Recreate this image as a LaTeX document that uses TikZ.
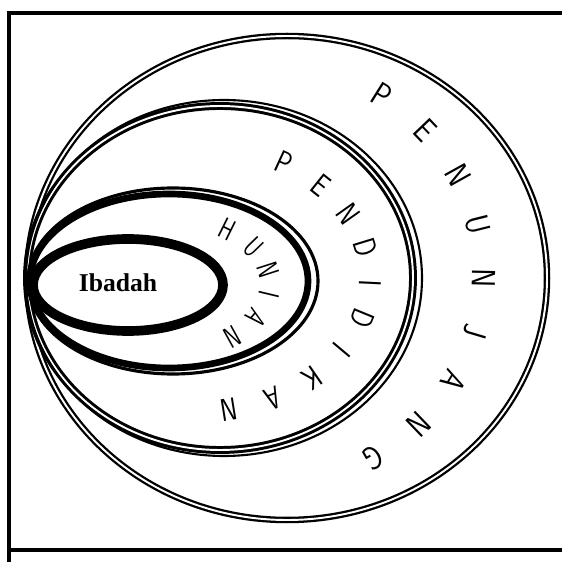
\documentclass[tikz,border=0pt]{standalone}
\usepackage{fontspec}
\setmainfont{Liberation Serif}
\usepackage{tikz}

\begin{document}
\begin{tikzpicture}[
    x=0.02cm, y=0.02cm,
    frame/.style={line width=2.6pt},
    ring/.style={line width=1.3pt, double, double distance=1.1pt},
    letter/.style={font=\sffamily\fontsize{#1}{#1}\selectfont, inner sep=0pt}
  ]
  \useasboundingbox (0,0) rectangle (562,562);
  % frame
  \draw[frame] (562,549) -- (9,549) -- (9,0);
  \draw[frame] (9,12) -- (562,12);
  % zones, outermost first
  \draw[ring] (287,284) ellipse (260 and 242);
  \draw[ring, line width=1.7pt] (220,284) ellipse (193 and 172);
  \draw[line width=1.2pt] (224,284) ellipse (198 and 178);
  \draw[line width=3.8pt] (169,281) ellipse (139 and 87);
  \draw[line width=1.8pt] (173,281) ellipse (145 and 93);
  \draw[line width=5.5pt] (128,277) ellipse (95 and 46);
  % labels
  \node[font=\bfseries\fontsize{14.6}{16}\selectfont] (ibadah) at (118,279) {Ibadah};
  \foreach \l [count=\i, evaluate=\i as \t using 56.2-14.35*(\i-1)] in {P,E,N,U,N,J,A,N,G}
    \path (254,288) ++(\t:230 and 215)
      node[letter=19, rotate={atan2(-215*cos(\t),230*sin(\t))}, xscale=0.85] (penunjang\i) {\l};
  \foreach \l [count=\i, evaluate=\i as \t using 58.7-15.2*(\i-1)] in {P,E,N,D,I,D,I,K,A,N}
    \path (192,284) ++(\t:178 and 135)
      node[letter=18, rotate={atan2(-135*cos(\t),178*sin(\t))}, xscale=0.8] (pendidikan\i) {\l};
  \foreach \l [count=\i, evaluate=\i as \t using 52-20.2*(\i-1)] in {H,U,N,I,A,N}
    \path (160,278) ++(\t:110 and 70)
      node[letter=17, rotate={atan2(-70*cos(\t),110*sin(\t))}, xscale=0.7] (hunian\i) {\l};
\end{tikzpicture}
\end{document}
